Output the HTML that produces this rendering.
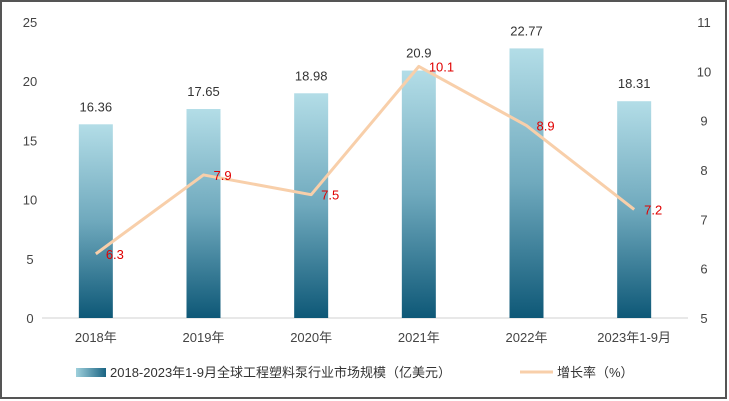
<!DOCTYPE html>
<html><head><meta charset="utf-8"><style>
body{margin:0;background:#fff}
svg{display:block;font-family:"Liberation Sans","Noto Sans CJK SC",sans-serif}
</style></head><body>
<svg id="c" width="729" height="401">
<defs><linearGradient id="g" x1="0" y1="0" x2="0" y2="1"><stop offset="0" stop-color="#b3dde7"/><stop offset="0.5" stop-color="#6fa9bd"/><stop offset="1" stop-color="#0e5877"/></linearGradient>
<linearGradient id="gl" x1="0" y1="0" x2="1" y2="0"><stop offset="0" stop-color="#9fd0dc"/><stop offset="1" stop-color="#1a6483"/></linearGradient></defs>
<rect x="1" y="1" width="725" height="397" fill="#fff" stroke="#555" stroke-width="2"/>
<g id="plot"></g>
<g>
<rect x="76" y="368" width="30" height="9" fill="url(#gl)"/>
<text x="110" y="377" font-size="13" fill="#333">2018-2023年1-9月全球工程塑料泵行业市场规模（亿美元）</text>
<line x1="520" y1="372" x2="553" y2="372" stroke="#f8cfaa" stroke-width="3"/>
<text x="557" y="377" font-size="13" fill="#333">增长率（%）</text>
</g>
</svg>
<script>
const categories=["2018年","2019年","2020年","2021年","2022年","2023年1-9月"];
const marketSize=[16.36,17.65,18.98,20.9,22.77,18.31];
const growthRate=[6.3,7.9,7.5,10.1,8.9,7.2];
const leftTicks=[0,5,10,15,20,25];
const rightTicks=[5,6,7,8,9,10,11];
const NS="http://www.w3.org/2000/svg";
const g=document.getElementById('plot');
const x0=42,x1=688,yB=318,yT=22;
const yL=v=>yB-(v/25)*(yB-yT);
const yR=v=>yB-((v-5)/6)*(yB-yT);
const step=(x1-x0)/categories.length;
const xc=i=>x0+step*(i+0.5);
function el(t,a,txt){const e=document.createElementNS(NS,t);for(const k in a)e.setAttribute(k,a[k]);if(txt!==undefined)e.textContent=txt;g.appendChild(e);return e;}
leftTicks.forEach(v=>{const e=el('text',{x:30,y:yL(v)+5,'font-size':13,fill:'#444','text-anchor':'middle'},v);

});
rightTicks.forEach(v=>{const e=el('text',{x:704,y:yR(v)+5,'font-size':13,fill:'#444','text-anchor':'middle'},v);

});
const ax=el('line',{x1:x0,y1:yB,x2:x1,y2:yB,stroke:'#d0d0d0','stroke-width':1});


marketSize.forEach((v,i)=>{
const b=el('rect',{x:xc(i)-17,y:yL(v),width:34,height:yB-yL(v),fill:'url(#g)'});


const t=el('text',{x:xc(i),y:yL(v)-13,'font-size':13,fill:'#333','text-anchor':'middle'},v);


const c=el('text',{x:xc(i),y:yB+24,'font-size':13,fill:'#444','text-anchor':'middle'},categories[i]);


});
const pts=growthRate.map((v,i)=>xc(i)+','+yR(v)).join(' ');
const pl=el('polyline',{points:pts,fill:'none',stroke:'#f8cfaa','stroke-width':3,'stroke-linejoin':'round'});


growthRate.forEach((v,i)=>{
const t=el('text',{x:xc(i)+10,y:yR(v)+5,'font-size':13,fill:'#e00000'},v);


});
</script>
</body></html>
